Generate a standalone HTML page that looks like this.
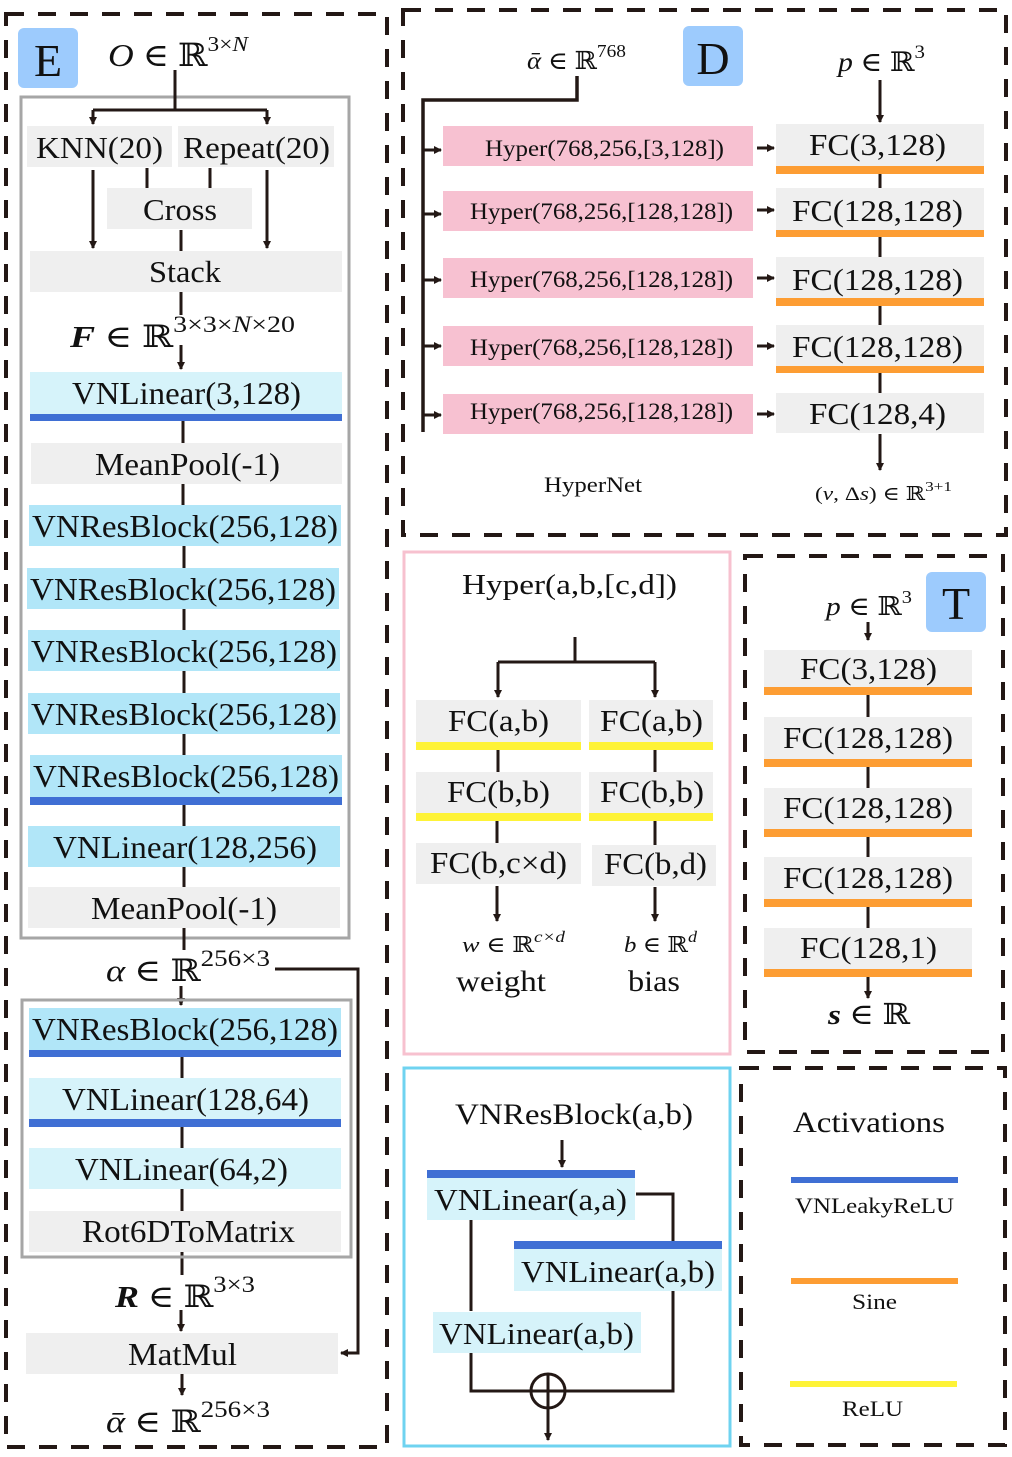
<!DOCTYPE html>
<html><head><meta charset="utf-8"><style>
html,body{margin:0;padding:0;background:#fff}
svg{display:block}
text{font-family:"Liberation Serif","DejaVu Serif",serif;fill:#111}
.m{font-style:italic}
</style></head><body>
<svg width="1012" height="1457" viewBox="0 0 1012 1457" xmlns="http://www.w3.org/2000/svg">
<defs>
<marker id="a" markerWidth="8" markerHeight="8" refX="7" refY="4" orient="auto" markerUnits="userSpaceOnUse"><path d="M0,0 L8,4 L0,8 z" fill="#231815"/></marker>
</defs>
<g fill="none" stroke="#231815" stroke-width="4" stroke-dasharray="18,14">
<rect x="6" y="14" width="381" height="1433"/>
<rect x="403" y="10" width="603" height="525"/>
<rect x="745" y="556" width="258" height="496"/>
<rect x="741" y="1068" width="264" height="377"/>
</g>
<rect x="404" y="552" width="326" height="502" fill="none" stroke="#f7c1cf" stroke-width="3"/>
<rect x="404" y="1068" width="326" height="378" fill="none" stroke="#6fd3f0" stroke-width="3"/>

<!-- E -->
<rect x="18" y="28" width="60" height="60" rx="6" fill="#9dcbfd"/>
<text x="48" y="76" font-size="46" text-anchor="middle">E</text>
<text x="108" y="66" font-size="32" textLength="140" lengthAdjust="spacingAndGlyphs"><tspan class="m">O</tspan> ∈ ℝ<tspan font-size="21" dy="-15">3×<tspan class="m">N</tspan></tspan></text>
<rect x="21" y="97" width="328" height="841" fill="none" stroke="#a6a6a6" stroke-width="3"/>
<g fill="#efefef"><rect x="27" y="126" width="145" height="41"/><rect x="178" y="126" width="156" height="41"/><rect x="107" y="188" width="145" height="41"/><rect x="30" y="251" width="312" height="41"/></g>
<g stroke="#231815" stroke-width="3" fill="none">
<path d="M175,70 V110 M93,110 H267"/>
<path d="M93,110 V124" marker-end="url(#a)"/><path d="M267,110 V124" marker-end="url(#a)"/>
<path d="M93,170 V248" marker-end="url(#a)"/><path d="M267,170 V248" marker-end="url(#a)"/>
<path d="M147,168 V188 M210,168 V188 M181,230 V251 M181,292 V315"/>
<path d="M181,345 V369" marker-end="url(#a)"/>
<path d="M183,421 V443 M183,484 V505 M184,546 V568 M184,609 V630 M184,671 V693 M184,734 V755 M184,805 V826 M184,867 V887 M184,928 V950"/>
<path d="M181,986 V1005" marker-end="url(#a)"/>
<path d="M182,1057 V1078 M182,1127 V1148 M182,1189 V1211 M182,1252 V1275"/>
<path d="M181,1310 V1331" marker-end="url(#a)"/>
<path d="M182,1374 V1395" marker-end="url(#a)"/>
<path d="M275,969 H358 V1353 H341" marker-end="url(#a)"/>
</g>
<g font-size="31">
<text x="36" y="158" textLength="127" lengthAdjust="spacingAndGlyphs">KNN(20)</text>
<text x="183" y="158" textLength="147" lengthAdjust="spacingAndGlyphs">Repeat(20)</text>
<text x="143" y="220" textLength="74" lengthAdjust="spacingAndGlyphs">Cross</text>
<text x="149" y="282" textLength="72" lengthAdjust="spacingAndGlyphs">Stack</text>
</g>
<text x="70" y="347" font-size="31" textLength="225" lengthAdjust="spacingAndGlyphs"><tspan class="m" font-weight="bold">F</tspan> ∈ ℝ<tspan font-size="23" dy="-15">3×3×<tspan class="m">N</tspan>×20</tspan></text>
<rect x="30" y="372" width="312" height="42" fill="#d6f3fa"/><rect x="30" y="414" width="312" height="7" fill="#3f6fd4"/>
<rect x="31" y="443" width="311" height="41" fill="#efefef"/>
<g fill="#b1e6f8">
<rect x="29" y="505" width="312" height="41"/><rect x="27" y="568" width="312" height="41"/><rect x="28" y="630" width="312" height="41"/><rect x="28" y="693" width="312" height="41"/><rect x="30" y="755" width="312" height="42"/><rect x="28" y="826" width="312" height="41"/>
</g>
<rect x="30" y="797" width="312" height="8" fill="#3f6fd4"/>
<rect x="28" y="887" width="312" height="41" fill="#efefef"/>
<g font-size="32">
<text x="72" y="404" textLength="229" lengthAdjust="spacingAndGlyphs">VNLinear(3,128)</text>
<text x="95" y="475" textLength="185" lengthAdjust="spacingAndGlyphs">MeanPool(-1)</text>
<text x="32" y="537" textLength="306" lengthAdjust="spacingAndGlyphs">VNResBlock(256,128)</text>
<text x="30" y="600" textLength="306" lengthAdjust="spacingAndGlyphs">VNResBlock(256,128)</text>
<text x="31" y="662" textLength="306" lengthAdjust="spacingAndGlyphs">VNResBlock(256,128)</text>
<text x="31" y="725" textLength="306" lengthAdjust="spacingAndGlyphs">VNResBlock(256,128)</text>
<text x="33" y="787" textLength="306" lengthAdjust="spacingAndGlyphs">VNResBlock(256,128)</text>
<text x="53" y="858" textLength="264" lengthAdjust="spacingAndGlyphs">VNLinear(128,256)</text>
<text x="91" y="919" textLength="186" lengthAdjust="spacingAndGlyphs">MeanPool(-1)</text>
</g>
<text x="106" y="981" font-size="31" textLength="164" lengthAdjust="spacingAndGlyphs"><tspan class="m">α</tspan> ∈ ℝ<tspan font-size="23" dy="-15">256×3</tspan></text>
<rect x="22" y="1000" width="329" height="257" fill="none" stroke="#a6a6a6" stroke-width="3"/>
<rect x="29" y="1008" width="312" height="42" fill="#b1e6f8"/><rect x="29" y="1050" width="312" height="7" fill="#3f6fd4"/>
<rect x="29" y="1078" width="312" height="41" fill="#d6f3fa"/><rect x="29" y="1119" width="312" height="8" fill="#3f6fd4"/>
<rect x="29" y="1148" width="312" height="41" fill="#d6f3fa"/>
<rect x="29" y="1211" width="312" height="41" fill="#efefef"/>
<rect x="26" y="1333" width="312" height="41" fill="#efefef"/>
<g font-size="32">
<text x="32" y="1040" textLength="306" lengthAdjust="spacingAndGlyphs">VNResBlock(256,128)</text>
<text x="62" y="1110" textLength="247" lengthAdjust="spacingAndGlyphs">VNLinear(128,64)</text>
<text x="75" y="1180" textLength="213" lengthAdjust="spacingAndGlyphs">VNLinear(64,2)</text>
<text x="82" y="1242" textLength="213" lengthAdjust="spacingAndGlyphs">Rot6DToMatrix</text>
<text x="128" y="1365" textLength="109" lengthAdjust="spacingAndGlyphs">MatMul</text>
</g>
<text x="115" y="1307" font-size="31" textLength="140" lengthAdjust="spacingAndGlyphs"><tspan class="m" font-weight="bold">R</tspan> ∈ ℝ<tspan font-size="23" dy="-15">3×3</tspan></text>
<text x="106" y="1432" font-size="31" textLength="164" lengthAdjust="spacingAndGlyphs"><tspan class="m">ᾱ</tspan> ∈ ℝ<tspan font-size="23" dy="-15">256×3</tspan></text>

<!-- D -->
<rect x="683" y="26" width="60" height="60" rx="6" fill="#9dcbfd"/>
<text x="713" y="74" font-size="46" text-anchor="middle">D</text>
<text x="527" y="69" font-size="25" textLength="99" lengthAdjust="spacingAndGlyphs"><tspan class="m">ᾱ</tspan> ∈ ℝ<tspan font-size="18" dy="-12">768</tspan></text>
<text x="838" y="71" font-size="27" textLength="87" lengthAdjust="spacingAndGlyphs"><tspan class="m">p</tspan> ∈ ℝ<tspan font-size="19" dy="-13">3</tspan></text>
<g stroke="#231815" stroke-width="3.5" fill="none">
<path d="M577,76 V100 H423 V432"/>
</g>
<g stroke="#231815" stroke-width="3" fill="none">
<path d="M423,150 H441" marker-end="url(#a)"/><path d="M423,214 H441" marker-end="url(#a)"/><path d="M423,280 H441" marker-end="url(#a)"/><path d="M423,346 H441" marker-end="url(#a)"/><path d="M423,415 H441" marker-end="url(#a)"/>
<path d="M757,148 H774" marker-end="url(#a)"/><path d="M757,210 H774" marker-end="url(#a)"/><path d="M757,278 H774" marker-end="url(#a)"/><path d="M757,346 H774" marker-end="url(#a)"/><path d="M757,414 H774" marker-end="url(#a)"/>
<path d="M880,80 V122" marker-end="url(#a)"/>
<path d="M880,174 V188 M880,237 V257 M880,306 V325 M880,373 V393"/>
<path d="M880,434 V470" marker-end="url(#a)"/>
</g>
<g fill="#f7c1d1">
<rect x="443" y="126" width="310" height="40"/><rect x="443" y="191" width="310" height="40"/><rect x="443" y="258" width="310" height="40"/><rect x="443" y="326" width="310" height="40"/><rect x="443" y="394" width="310" height="40"/>
</g>
<g fill="#efefef">
<rect x="776" y="124" width="208" height="42"/><rect x="776" y="188" width="208" height="42"/><rect x="776" y="257" width="208" height="41"/><rect x="776" y="325" width="208" height="41"/><rect x="776" y="393" width="208" height="40"/>
</g>
<g fill="#fd9d33">
<rect x="776" y="166" width="208" height="8"/><rect x="776" y="230" width="208" height="7"/><rect x="776" y="298" width="208" height="8"/><rect x="776" y="366" width="208" height="7"/>
</g>
<g font-size="23">
<text x="485" y="156" textLength="239" lengthAdjust="spacingAndGlyphs">Hyper(768,256,[3,128])</text>
<text x="470" y="219" textLength="263" lengthAdjust="spacingAndGlyphs">Hyper(768,256,[128,128])</text>
<text x="470" y="287" textLength="263" lengthAdjust="spacingAndGlyphs">Hyper(768,256,[128,128])</text>
<text x="470" y="355" textLength="263" lengthAdjust="spacingAndGlyphs">Hyper(768,256,[128,128])</text>
<text x="470" y="419" textLength="263" lengthAdjust="spacingAndGlyphs">Hyper(768,256,[128,128])</text>
</g>
<g font-size="31">
<text x="809" y="155" textLength="137" lengthAdjust="spacingAndGlyphs">FC(3,128)</text>
<text x="792" y="221" textLength="171" lengthAdjust="spacingAndGlyphs">FC(128,128)</text>
<text x="792" y="290" textLength="171" lengthAdjust="spacingAndGlyphs">FC(128,128)</text>
<text x="792" y="357" textLength="171" lengthAdjust="spacingAndGlyphs">FC(128,128)</text>
<text x="809" y="424" textLength="137" lengthAdjust="spacingAndGlyphs">FC(128,4)</text>
</g>
<text x="544" y="492" font-size="22" textLength="98" lengthAdjust="spacingAndGlyphs">HyperNet</text>
<text x="815" y="500" font-size="19" textLength="137" lengthAdjust="spacingAndGlyphs">(<tspan class="m">v</tspan>, Δ<tspan class="m">s</tspan>) ∈ ℝ<tspan font-size="14" dy="-9">3+1</tspan></text>

<!-- Hyper -->
<text x="462" y="594" font-size="29" textLength="215" lengthAdjust="spacingAndGlyphs">Hyper(a,b,[c,d])</text>
<g stroke="#231815" stroke-width="3" fill="none">
<path d="M575,637 V662 M498,662 H655"/>
<path d="M498,662 V697" marker-end="url(#a)"/><path d="M655,662 V697" marker-end="url(#a)"/>
<path d="M498,750 V772 M655,750 V772 M497,821 V843 M655,821 V845"/>
<path d="M497,886 V921" marker-end="url(#a)"/><path d="M655,887 V921" marker-end="url(#a)"/>
</g>
<g fill="#efefef">
<rect x="416" y="700" width="165" height="42"/><rect x="589" y="700" width="124" height="42"/>
<rect x="416" y="772" width="165" height="41"/><rect x="589" y="772" width="124" height="41"/>
<rect x="416" y="843" width="165" height="41"/><rect x="592" y="845" width="124" height="41"/>
</g>
<g fill="#fef337">
<rect x="416" y="742" width="165" height="8"/><rect x="589" y="742" width="124" height="8"/>
<rect x="416" y="813" width="165" height="8"/><rect x="589" y="813" width="124" height="8"/>
</g>
<g font-size="31">
<text x="448" y="731" textLength="101" lengthAdjust="spacingAndGlyphs">FC(a,b)</text>
<text x="600" y="731" textLength="103" lengthAdjust="spacingAndGlyphs">FC(a,b)</text>
<text x="447" y="802" textLength="103" lengthAdjust="spacingAndGlyphs">FC(b,b)</text>
<text x="600" y="802" textLength="104" lengthAdjust="spacingAndGlyphs">FC(b,b)</text>
<text x="430" y="873" textLength="137" lengthAdjust="spacingAndGlyphs">FC(b,c×d)</text>
<text x="604" y="874" textLength="103" lengthAdjust="spacingAndGlyphs">FC(b,d)</text>
</g>
<text x="462" y="952" font-size="22" textLength="103" lengthAdjust="spacingAndGlyphs"><tspan class="m">w</tspan> ∈ ℝ<tspan class="m" font-size="16" dy="-10">c×d</tspan></text>
<text x="624" y="952" font-size="22" textLength="73" lengthAdjust="spacingAndGlyphs"><tspan class="m">b</tspan> ∈ ℝ<tspan class="m" font-size="16" dy="-10">d</tspan></text>
<text x="456" y="991" font-size="30" textLength="90" lengthAdjust="spacingAndGlyphs">weight</text>
<text x="628" y="991" font-size="30" textLength="52" lengthAdjust="spacingAndGlyphs">bias</text>

<!-- T -->
<rect x="926" y="572" width="60" height="60" rx="6" fill="#9dcbfd"/>
<text x="956" y="619" font-size="46" text-anchor="middle">T</text>
<text x="826" y="615" font-size="26" textLength="86" lengthAdjust="spacingAndGlyphs"><tspan class="m">p</tspan> ∈ ℝ<tspan font-size="18" dy="-12">3</tspan></text>
<g stroke="#231815" stroke-width="3" fill="none">
<path d="M868,622 V640" marker-end="url(#a)"/>
<path d="M868,695 V717 M868,767 V788 M868,837 V857 M868,907 V928"/>
<path d="M868,977 V998" marker-end="url(#a)"/>
</g>
<g fill="#efefef">
<rect x="764" y="650" width="208" height="37"/><rect x="764" y="717" width="208" height="42"/><rect x="764" y="788" width="208" height="41"/><rect x="764" y="857" width="208" height="42"/><rect x="764" y="928" width="208" height="41"/>
</g>
<g fill="#fd9d33">
<rect x="764" y="687" width="208" height="8"/><rect x="764" y="759" width="208" height="8"/><rect x="764" y="829" width="208" height="8"/><rect x="764" y="899" width="208" height="8"/><rect x="764" y="969" width="208" height="8"/>
</g>
<g font-size="31">
<text x="800" y="679" textLength="137" lengthAdjust="spacingAndGlyphs">FC(3,128)</text>
<text x="783" y="748" textLength="170" lengthAdjust="spacingAndGlyphs">FC(128,128)</text>
<text x="783" y="818" textLength="170" lengthAdjust="spacingAndGlyphs">FC(128,128)</text>
<text x="783" y="888" textLength="170" lengthAdjust="spacingAndGlyphs">FC(128,128)</text>
<text x="800" y="958" textLength="137" lengthAdjust="spacingAndGlyphs">FC(128,1)</text>
</g>
<text x="828" y="1024" font-size="29" textLength="82" lengthAdjust="spacingAndGlyphs"><tspan class="m" font-weight="bold">s</tspan> ∈ ℝ</text>

<!-- VNResBlock -->
<text x="455" y="1124" font-size="30" textLength="238" lengthAdjust="spacingAndGlyphs">VNResBlock(a,b)</text>
<g stroke="#231815" stroke-width="3" fill="none">
<path d="M562,1140 V1167" marker-end="url(#a)"/>
<path d="M636,1194 H673 V1241 M673,1291 V1391 H565 M531,1391 H471 V1353 M471,1311 V1220"/>
<circle cx="548" cy="1391" r="17"/>
<path d="M548,1374 V1408 M531,1391 H565"/>
<path d="M548,1408 V1440" marker-end="url(#a)"/>
</g>
<rect x="427" y="1170" width="208" height="8" fill="#3f6fd4"/><rect x="427" y="1178" width="208" height="42" fill="#d6f3fa"/>
<rect x="514" y="1241" width="208" height="8" fill="#3f6fd4"/><rect x="514" y="1249" width="208" height="42" fill="#d6f3fa"/>
<rect x="433" y="1312" width="208" height="41" fill="#d6f3fa"/>
<g font-size="31">
<text x="434" y="1210" textLength="193" lengthAdjust="spacingAndGlyphs">VNLinear(a,a)</text>
<text x="521" y="1282" textLength="194" lengthAdjust="spacingAndGlyphs">VNLinear(a,b)</text>
<text x="439" y="1344" textLength="195" lengthAdjust="spacingAndGlyphs">VNLinear(a,b)</text>
</g>

<!-- Activations -->
<text x="793" y="1132" font-size="30" textLength="152" lengthAdjust="spacingAndGlyphs">Activations</text>
<rect x="791" y="1177" width="167" height="6" fill="#3f6fd4"/>
<text x="795" y="1213" font-size="22" textLength="159" lengthAdjust="spacingAndGlyphs">VNLeakyReLU</text>
<rect x="791" y="1278" width="167" height="6" fill="#fd9d33"/>
<text x="852" y="1309" font-size="22" textLength="45" lengthAdjust="spacingAndGlyphs">Sine</text>
<rect x="790" y="1381" width="167" height="6" fill="#fef337"/>
<text x="842" y="1416" font-size="22" textLength="61" lengthAdjust="spacingAndGlyphs">ReLU</text>
</svg>
</body></html>
